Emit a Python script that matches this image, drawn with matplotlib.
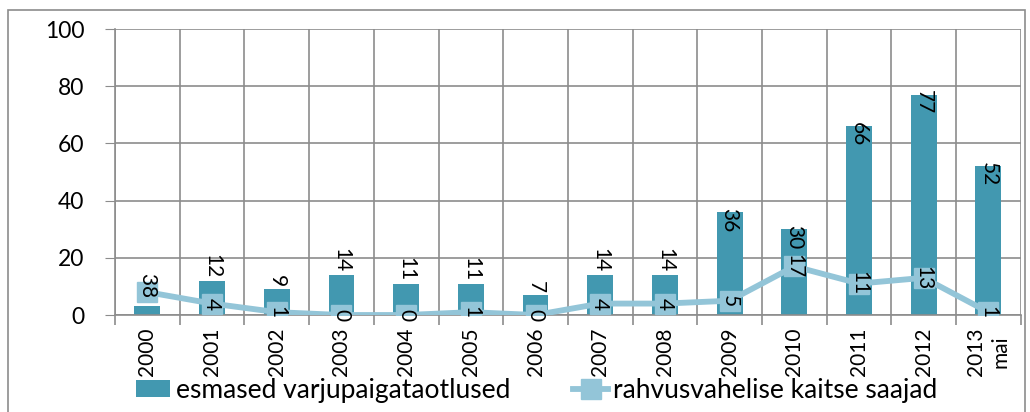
import matplotlib.pyplot as plt
import numpy as np
from matplotlib.patches import Rectangle

plt.rcParams['font.family'] = ['Lato', 'DejaVu Sans']

# data
years = ['2000', '2001', '2002', '2003', '2004', '2005', '2006', '2007',
         '2008', '2009', '2010', '2011', '2012', '2013\nmai']
applications = [3, 12, 9, 14, 11, 11, 7, 14, 14, 36, 30, 66, 77, 52]
protected = [8, 4, 1, 0, 0, 1, 0, 4, 4, 5, 17, 11, 13, 1]

bar_color = '#4298B0'
line_color = '#93C5D8'
grid_color = '#8C8C8C'

fig = plt.figure(figsize=(10.3, 4.12), dpi=100)
ax = fig.add_axes([0.1117, 0.2354, 0.8793, 0.6942])

x = np.arange(len(years))
bars = ax.bar(x, applications, width=0.4, color=bar_color, zorder=2,
              label='esmased varjupaigataotlused')
line, = ax.plot(x, protected, color=line_color, linewidth=4.2, marker='s',
                markersize=14, markerfacecolor=line_color,
                markeredgecolor=line_color, zorder=3,
                label='rahvusvahelise kaitse saajad')

# data labels: short bars get the label above, tall bars inside the top
for xi, v, p in zip(x, applications, protected):
    if v < 20:
        y = v + 0.8
        if v < p:  # bar label would sit on the line label -> put it above
            y = p + 2.6
        ax.text(xi, y, str(v), rotation=270, ha='center', va='bottom',
                fontsize=15, zorder=4)
    else:
        ax.text(xi, v + 1.5, str(v), rotation=270, ha='center', va='top',
                fontsize=15, zorder=4)
for xi, p in zip(x, protected):
    ax.text(xi, p, str(p), rotation=270, ha='center', va='center',
            fontsize=15, zorder=4)

ax.set_xlim(-0.5, len(years) - 0.5)
ax.set_ylim(0, 100)
ax.set_yticks(np.arange(0, 101, 20))
ax.tick_params(axis='y', labelsize=16.5, length=7, color=grid_color, pad=15)

ax.set_xticks(x)
ax.set_xticklabels(years, rotation=90, fontsize=15, linespacing=1.3)
ax.tick_params(axis='x', length=0, pad=9)
ax.set_xticks(np.arange(-0.5, len(years)), minor=True)
ax.tick_params(axis='x', which='minor', length=7, color=grid_color, width=1.2)

ax.grid(True, axis='y', color=grid_color, linewidth=1.2, zorder=0)
ax.grid(True, axis='x', which='minor', color=grid_color, linewidth=1.2, zorder=0)
ax.set_axisbelow(True)

for s in ['top', 'right']:
    ax.spines[s].set_visible(False)
for s in ['left', 'bottom']:
    ax.spines[s].set_color(grid_color)
    ax.spines[s].set_linewidth(1.2)

fig.legend(handles=[bars, line], loc='center', bbox_to_anchor=(0.521, 0.052),
           ncol=2, frameon=False, fontsize=19, handlelength=1.3,
           columnspacing=2.4, handletextpad=0.2, handleheight=0.6)

# outer chart border
fig.patches.append(Rectangle((8 / 1030, -0.01), 1017 / 1030, 1 - 10 / 412 + 0.01,
                             transform=fig.transFigure, fill=False,
                             edgecolor=grid_color, linewidth=1.2))

fig.savefig('out.png', dpi=100)
